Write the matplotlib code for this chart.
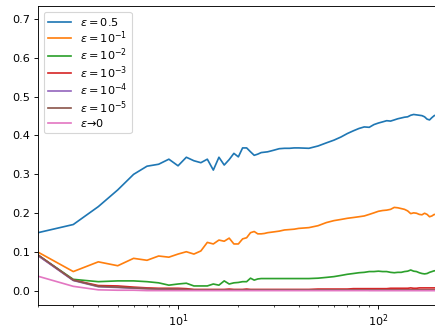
import numpy as np
import matplotlib
matplotlib.use('Agg')
import matplotlib.pyplot as plt

# number of samples
N = [2, 3, 4, 5, 6, 7, 8, 9, 10,
     11, 12, 13, 14, 15, 16, 17, 18, 19, 20,
     21, 22, 23, 24, 25, 26, 27, 28, 29, 30,
     32, 34, 36, 38, 40,
     45, 50, 55, 60, 65, 70, 75, 80, 85, 90, 95, 100,
     105, 110, 115, 120, 125, 130, 135, 140, 145, 150,
     155, 160, 165, 170, 175, 180, 185, 190, 195, 200]

err_05 = [0.150, 0.171, 0.217, 0.260, 0.300, 0.321, 0.326, 0.339, 0.322,
          0.344, 0.335, 0.330, 0.339, 0.311, 0.344, 0.324, 0.338, 0.354, 0.345,
          0.368, 0.368, 0.358, 0.349, 0.352, 0.356, 0.357, 0.358, 0.360, 0.362,
          0.366, 0.367, 0.367, 0.368, 0.368,
          0.367, 0.373, 0.381, 0.388, 0.396, 0.405, 0.412, 0.418, 0.422, 0.421, 0.428, 0.432,
          0.435, 0.438, 0.437, 0.440, 0.443, 0.445, 0.447, 0.448, 0.452, 0.454,
          0.453, 0.452, 0.451, 0.448, 0.442, 0.440, 0.446, 0.451, 0.453, 0.455]

err_1 = [0.100, 0.050, 0.075, 0.065, 0.084, 0.079, 0.090, 0.087, 0.095,
         0.101, 0.095, 0.103, 0.125, 0.121, 0.131, 0.128, 0.136, 0.121, 0.121,
         0.134, 0.137, 0.150, 0.153, 0.147, 0.147, 0.148, 0.150, 0.151, 0.152,
         0.154, 0.157, 0.158, 0.159, 0.161,
         0.163, 0.168, 0.176, 0.181, 0.184, 0.187, 0.189, 0.191, 0.193, 0.197, 0.201, 0.205,
         0.207, 0.208, 0.210, 0.215, 0.214, 0.212, 0.210, 0.206, 0.199, 0.201,
         0.200, 0.197, 0.196, 0.200, 0.197, 0.191, 0.193, 0.197, 0.196, 0.198]

err_2 = [0.092, 0.030, 0.024, 0.026, 0.026, 0.024, 0.021, 0.015, 0.018,
         0.020, 0.013, 0.013, 0.013, 0.018, 0.015, 0.026, 0.018, 0.021, 0.022,
         0.024, 0.024, 0.033, 0.028, 0.031, 0.032, 0.032, 0.032, 0.032, 0.032,
         0.032, 0.032, 0.032, 0.032, 0.032,
         0.032, 0.033, 0.035, 0.037, 0.040, 0.043, 0.045, 0.047, 0.048, 0.050, 0.050, 0.051,
         0.050, 0.050, 0.048, 0.047, 0.048, 0.048, 0.050, 0.051, 0.054, 0.051,
         0.050, 0.047, 0.045, 0.044, 0.045, 0.048, 0.050, 0.052, 0.052, 0.053]

err_3 = [0.092, 0.028, 0.014, 0.013, 0.010, 0.008, 0.007, 0.007, 0.007,
         0.006, 0.004, 0.004, 0.004, 0.004, 0.004, 0.004, 0.005, 0.004, 0.004,
         0.004, 0.005, 0.004, 0.004, 0.004, 0.004, 0.004, 0.004, 0.004, 0.004,
         0.004, 0.004, 0.004, 0.004, 0.004,
         0.004, 0.005, 0.005, 0.005, 0.005, 0.005, 0.006, 0.006, 0.006, 0.006, 0.006, 0.006,
         0.006, 0.006, 0.007, 0.007, 0.007, 0.007, 0.007, 0.007, 0.008, 0.007,
         0.007, 0.008, 0.008, 0.008, 0.008, 0.008, 0.008, 0.008, 0.008, 0.008]

err_4 = [0.091, 0.027, 0.011, 0.009, 0.007, 0.006, 0.005, 0.004, 0.004,
         0.003, 0.003, 0.003, 0.003, 0.003, 0.003, 0.003, 0.003, 0.003, 0.003,
         0.003, 0.003, 0.003, 0.003, 0.003, 0.003, 0.003, 0.003, 0.003, 0.003,
         0.003, 0.003, 0.003, 0.003, 0.003,
         0.003, 0.003, 0.003, 0.003, 0.003, 0.003, 0.003, 0.003, 0.003, 0.002, 0.002, 0.002,
         0.002, 0.002, 0.002, 0.002, 0.002, 0.002, 0.002, 0.002, 0.002, 0.002,
         0.002, 0.002, 0.002, 0.002, 0.002, 0.002, 0.002, 0.002, 0.002, 0.002]

err_5 = [0.093, 0.028, 0.012, 0.010, 0.008, 0.006, 0.005, 0.005, 0.004,
         0.004, 0.003, 0.003, 0.003, 0.003, 0.003, 0.003, 0.003, 0.003, 0.003,
         0.003, 0.003, 0.003, 0.003, 0.003, 0.003, 0.003, 0.003, 0.003, 0.003,
         0.003, 0.003, 0.003, 0.003, 0.003,
         0.003, 0.003, 0.003, 0.003, 0.003, 0.003, 0.003, 0.003, 0.003, 0.003, 0.003, 0.003,
         0.003, 0.003, 0.003, 0.003, 0.003, 0.003, 0.003, 0.003, 0.003, 0.003,
         0.003, 0.003, 0.003, 0.003, 0.003, 0.003, 0.003, 0.003, 0.003, 0.003]

err_0 = [0.038, 0.012, 0.003, 0.002, 0.002, 0.001, 0.001, 0.001, 0.001,
         0.001, 0.001, 0.001, 0.001, 0.001, 0.001, 0.001, 0.001, 0.001, 0.001,
         0.001, 0.001, 0.001, 0.001, 0.001, 0.001, 0.001, 0.001, 0.001, 0.001,
         0.001, 0.001, 0.001, 0.001, 0.001,
         0.001, 0.001, 0.001, 0.001, 0.001, 0.001, 0.001, 0.001, 0.001, 0.001, 0.001, 0.001,
         0.001, 0.001, 0.001, 0.001, 0.001, 0.001, 0.001, 0.001, 0.001, 0.001,
         0.001, 0.001, 0.001, 0.001, 0.001, 0.001, 0.001, 0.001, 0.001, 0.001]

series = [err_05, err_1, err_2, err_3, err_4, err_5, err_0]
labels = [r'$\epsilon=0.5$', r'$\epsilon=10^{-1}$', r'$\epsilon=10^{-2}$',
          r'$\epsilon=10^{-3}$', r'$\epsilon=10^{-4}$', r'$\epsilon=10^{-5}$',
          r'$\epsilon$→0']

fig = plt.figure(figsize=(435 / 81, 329 / 81), dpi=81)
ax = fig.add_axes([38 / 435, 24 / 329, 400.7 / 435, 299 / 329])

for y, lab in zip(series, labels):
    ax.plot(N, y, label=lab)

ax.set_xscale('log')
ax.set_xlim(2, 200)
ax.set_ylim(-0.036, 0.733)
ax.legend(loc='upper left', labelspacing=0.08)

plt.savefig('out.png', dpi=81)
